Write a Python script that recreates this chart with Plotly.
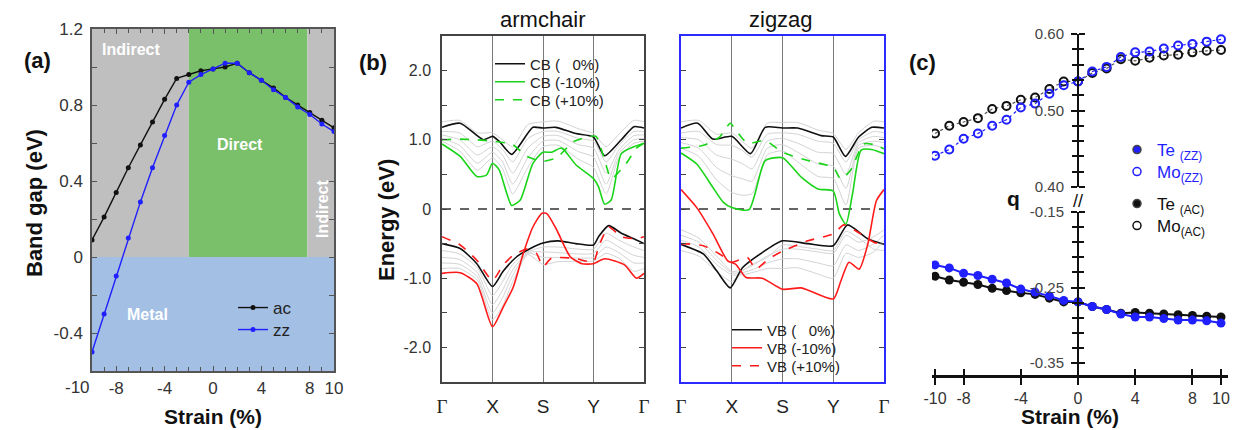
import plotly.graph_objects as go

W, H = 1237, 430
FONT = "Liberation Sans, Arial, sans-serif"


def fx(px):
    return px / W


def fy(py):
    return 1 - py / H


# ---------------- panel (a): band gap vs strain ----------------
strain_a = list(range(-10, 11))
gap_ac = [0.09, 0.21, 0.34, 0.47, 0.59, 0.71, 0.83, 0.94, 0.96, 0.98, 0.99,
          1.00, 1.02, 0.97, 0.93, 0.89, 0.84, 0.80, 0.76, 0.72, 0.68]
gap_zz = [-0.50, -0.30, -0.10, 0.10, 0.29, 0.47, 0.64, 0.80, 0.92, 0.96, 0.99,
          1.02, 1.02, 0.97, 0.93, 0.88, 0.84, 0.79, 0.75, 0.70, 0.66]
direct_from, direct_to = -2.0, 7.8
strain_ticks = [-10, -8, -4, 0, 4, 8, 10]
strain_ticktext = ["-10", "-8", "-4", "0", "4", "8", "10"]

# ---------------- panel (b): band structures ----------------
kpath_labels = ["Γ", "X", "S", "Y", "Γ"]
kpath_pos = [0, 1, 2, 3, 4]

# armchair
ac_cb0_k = [0, 0.36, 0.82, 1.0, 1.13, 1.38, 1.8, 2.0, 2.25, 2.65, 3.0, 3.22, 3.55, 3.8, 4.0]
ac_cb0_e = [1.18, 1.24, 1.00, 1.05, 0.98, 0.79, 1.18, 1.17, 1.18, 1.09, 1.04, 0.77, 1.00, 1.19, 1.17]
ac_cbm_k = [0, 0.36, 0.69, 0.88, 1.0, 1.13, 1.28, 1.38, 1.55, 1.8, 2.0, 2.17, 2.37, 2.65, 3.0, 3.1, 3.22, 3.35, 3.55, 3.8, 4.0]
ac_cbm_e = [0.94, 0.76, 0.47, 0.49, 0.66, 0.57, 0.23, 0.05, 0.13, 0.66, 0.82, 0.82, 0.88, 0.64, 0.44, 0.32, 0.07, 0.13, 0.80, 0.90, 0.95]
ac_cbp_k = [0, 0.36, 0.69, 1.0, 1.4, 1.68, 2.0, 2.27, 2.6, 2.93, 3.05, 3.22, 3.35, 3.65, 3.85, 4.0]
ac_cbp_e = [1.00, 1.01, 1.00, 0.98, 0.93, 0.76, 0.69, 0.74, 0.97, 1.05, 1.05, 0.71, 0.44, 0.66, 0.88, 0.95]
ac_vb0_k = [0, 0.36, 0.69, 1.0, 1.21, 1.48, 1.75, 2.0, 2.3, 2.65, 3.0, 3.1, 3.3, 3.55, 3.8, 4.0]
ac_vb0_e = [-0.50, -0.57, -0.79, -1.12, -0.90, -0.69, -0.57, -0.49, -0.46, -0.50, -0.52, -0.40, -0.24, -0.35, -0.43, -0.50]
ac_vbm_k = [0, 0.36, 0.69, 1.0, 1.21, 1.41, 1.61, 1.8, 1.98, 2.08, 2.27, 2.54, 2.77, 3.0, 3.22, 3.62, 3.85, 4.0]
ac_vbm_e = [-0.93, -0.92, -1.08, -1.70, -1.42, -1.13, -0.64, -0.26, -0.06, -0.07, -0.30, -0.69, -0.79, -0.79, -0.72, -0.81, -1.00, -0.93]
ac_vbp_k = [0, 0.36, 0.69, 1.0, 1.21, 1.41, 1.68, 1.87, 2.0, 2.17, 2.6, 3.0, 3.1, 3.3, 3.55, 3.85, 4.0]
ac_vbp_e = [-0.40, -0.52, -0.74, -1.03, -0.81, -0.67, -0.58, -0.64, -0.83, -0.71, -0.71, -0.76, -0.55, -0.26, -0.40, -0.43, -0.40]

# zigzag
zz_cb0_k = [0, 0.33, 0.63, 1.0, 1.37, 1.66, 2.0, 2.3, 2.76, 3.0, 3.24, 3.5, 3.76, 4.0]
zz_cb0_e = [1.17, 1.24, 1.01, 1.05, 0.80, 1.18, 1.17, 1.17, 1.06, 1.04, 0.76, 1.04, 1.18, 1.17]
zz_cbm_k = [0, 0.31, 0.63, 0.83, 1.0, 1.34, 1.66, 2.0, 2.37, 2.7, 3.0, 3.12, 3.25, 3.38, 3.55, 3.76, 4.0]
zz_cbm_e = [0.81, 0.65, 0.31, 0.10, 0.02, -0.01, 0.70, 0.74, 0.46, 0.29, 0.26, -0.07, -0.22, 0.22, 0.85, 0.86, 0.80]
zz_cbp_k = [0, 0.44, 0.76, 0.97, 1.08, 1.31, 1.66, 2.0, 2.5, 3.0, 3.15, 3.34, 3.6, 3.8, 4.0]
zz_cbp_e = [0.88, 0.92, 1.04, 1.24, 1.14, 0.95, 0.99, 0.82, 0.70, 0.60, 0.43, 0.56, 0.94, 0.93, 0.87]
zz_vb0_k = [0, 0.44, 0.70, 0.97, 1.21, 1.6, 2.0, 2.5, 3.0, 3.28, 3.68, 4.0]
zz_vb0_e = [-0.51, -0.65, -0.89, -1.14, -0.85, -0.63, -0.46, -0.50, -0.53, -0.23, -0.43, -0.51]
zz_vbm_k = [0, 0.31, 0.63, 0.92, 1.08, 1.28, 1.6, 2.0, 2.37, 3.0, 3.15, 3.31, 3.51, 3.68, 3.85, 4.0]
zz_vbm_e = [0.28, 0.02, -0.36, -0.75, -0.80, -0.99, -1.00, -1.16, -1.14, -1.30, -1.04, -0.77, -0.87, -0.51, 0.12, 0.28]
zz_vbp_k = [0, 0.44, 0.76, 1.0, 1.31, 1.47, 1.73, 2.0, 2.5, 3.0, 3.21, 3.54, 3.8, 4.0]
zz_vbp_e = [-0.50, -0.53, -0.65, -0.77, -0.70, -0.87, -0.72, -0.61, -0.46, -0.36, -0.23, -0.36, -0.48, -0.51]

# intermediate-strain bands (grey), read on a common k grid
gray_k = [0, 0.35, 0.7, 1.0, 1.2, 1.4, 1.7, 2.0, 2.3, 2.7, 3.0, 3.25, 3.5, 3.8, 4.0]
ac_cb_gray = [
    [1.26, 1.28, 1.10, 1.10, 1.00, 0.90, 1.22, 1.26, 1.27, 1.16, 1.09, 0.90, 1.08, 1.28, 1.26],
    [1.12, 1.10, 0.90, 0.98, 0.86, 0.68, 1.02, 1.12, 1.12, 1.02, 0.98, 0.68, 0.92, 1.12, 1.12],
    [1.07, 1.00, 0.78, 0.90, 0.78, 0.52, 0.88, 1.05, 1.06, 0.93, 0.88, 0.52, 0.85, 1.06, 1.07],
    [1.02, 0.92, 0.66, 0.82, 0.68, 0.36, 0.74, 0.98, 0.99, 0.83, 0.75, 0.36, 0.80, 1.00, 1.02],
    [0.98, 0.84, 0.56, 0.74, 0.58, 0.22, 0.60, 0.90, 0.92, 0.72, 0.60, 0.22, 0.74, 0.95, 0.98],
]
ac_vb_gray = [
    [-0.60, -0.65, -0.85, -1.25, -1.05, -0.80, -0.62, -0.55, -0.55, -0.58, -0.58, -0.35, -0.45, -0.55, -0.60],
    [-0.70, -0.73, -0.92, -1.38, -1.17, -0.88, -0.63, -0.62, -0.63, -0.65, -0.64, -0.45, -0.55, -0.67, -0.70],
    [-0.78, -0.80, -0.98, -1.50, -1.28, -0.96, -0.64, -0.70, -0.70, -0.71, -0.70, -0.55, -0.63, -0.78, -0.78],
    [-0.86, -0.86, -1.03, -1.60, -1.40, -1.05, -0.66, -0.80, -0.76, -0.76, -0.75, -0.64, -0.71, -0.90, -0.86],
]
zz_cb_gray = [
    [1.26, 1.28, 1.08, 1.10, 0.98, 0.88, 1.24, 1.25, 1.25, 1.14, 1.09, 0.86, 1.10, 1.27, 1.26],
    [1.10, 1.12, 0.93, 0.92, 0.85, 0.75, 1.08, 1.10, 1.08, 0.98, 0.95, 0.68, 1.00, 1.12, 1.10],
    [1.03, 1.00, 0.78, 0.72, 0.66, 0.58, 0.98, 1.02, 0.95, 0.82, 0.80, 0.50, 0.96, 1.05, 1.03],
    [0.96, 0.88, 0.60, 0.48, 0.44, 0.40, 0.88, 0.93, 0.82, 0.65, 0.62, 0.30, 0.92, 0.98, 0.96],
    [0.88, 0.76, 0.42, 0.24, 0.20, 0.22, 0.78, 0.84, 0.68, 0.47, 0.44, 0.06, 0.88, 0.92, 0.88],
]
zz_vb_gray = [
    [-0.30, -0.42, -0.68, -0.90, -0.88, -0.82, -0.68, -0.58, -0.58, -0.62, -0.64, -0.38, -0.48, -0.40, -0.30],
    [-0.38, -0.48, -0.74, -0.92, -0.92, -0.88, -0.78, -0.72, -0.72, -0.78, -0.82, -0.52, -0.60, -0.50, -0.38],
    [-0.45, -0.55, -0.80, -0.95, -0.95, -0.92, -0.86, -0.86, -0.85, -0.94, -1.00, -0.64, -0.70, -0.62, -0.45],
    [-0.60, -0.68, -0.90, -1.05, -0.90, -0.80, -0.70, -0.52, -0.54, -0.58, -0.60, -0.32, -0.42, -0.58, -0.60],
]

# ---------------- panel (c): charge q vs strain ----------------
strain_c = list(range(-10, 11))
mo_zz = [0.441, 0.449, 0.463, 0.470, 0.480, 0.488, 0.504, 0.509, 0.522, 0.533, 0.538,
         0.551, 0.557, 0.570, 0.576, 0.577, 0.581, 0.585, 0.587, 0.590, 0.593]
mo_ac = [0.470, 0.480, 0.485, 0.490, 0.502, 0.506, 0.514, 0.517, 0.528, 0.538, 0.538,
         0.549, 0.555, 0.567, 0.565, 0.569, 0.572, 0.573, 0.576, 0.578, 0.579]
te_zz = [-0.220, -0.224, -0.231, -0.234, -0.239, -0.244, -0.252, -0.256, -0.261, -0.267, -0.269,
         -0.275, -0.279, -0.285, -0.289, -0.289, -0.291, -0.293, -0.293, -0.294, -0.297]
te_ac = [-0.235, -0.240, -0.243, -0.246, -0.251, -0.254, -0.257, -0.259, -0.264, -0.269, -0.269,
         -0.275, -0.279, -0.284, -0.283, -0.284, -0.285, -0.286, -0.287, -0.288, -0.289]

BLACK = "#111111"
BLUE = "#1f1fff"
GREEN = "#19d419"
RED = "#ff1a1a"
GRAYBAND = "#d3d3d3"

fig = go.Figure()

# legend slots: (legend id, left px, centre-row px, font size, font colour)
legend_slots = {
    "legend": (233, 308, 17, "#222222"),
    "legend2": (233, 330, 17, "#222222"),
    "legend3": (490, 64, 15, "#222222"),
    "legend4": (490, 82, 15, "#222222"),
    "legend5": (490, 100, 15, "#222222"),
    "legend6": (727, 330, 15, "#222222"),
    "legend7": (727, 348, 15, "#222222"),
    "legend8": (727, 366, 15, "#222222"),
    "legend9": (1117, 150, 17, BLUE),
    "legend10": (1117, 172, 17, BLUE),
    "legend11": (1117, 204, 17, BLACK),
    "legend12": (1117, 226, 17, BLACK),
}

# ---- panel (a) traces
fig.add_trace(go.Scatter(x=strain_a, y=gap_ac, mode="lines+markers", name="ac",
                         line=dict(color=BLACK, width=1.4), marker=dict(size=5, color=BLACK),
                         xaxis="x", yaxis="y", legend="legend"))
fig.add_trace(go.Scatter(x=strain_a, y=gap_zz, mode="lines+markers", name="zz",
                         line=dict(color=BLUE, width=1.4), marker=dict(size=5, color=BLUE),
                         xaxis="x", yaxis="y", legend="legend2"))


def band(k, e, color, dash, ax, name=None, leg=None, width=1.6):
    fig.add_trace(go.Scatter(x=k, y=e, mode="lines", name=name,
                             line=dict(color=color, width=width, dash=dash, shape="spline", smoothing=0.6),
                             xaxis="x" + ax, yaxis="y" + ax, showlegend=name is not None,
                             legend=leg if leg else "legend", hoverinfo="skip"))


# grey bands first
for g in ac_cb_gray + ac_vb_gray:
    band(gray_k, g, GRAYBAND, "solid", "2", width=1.0)
for g in zz_cb_gray + zz_vb_gray:
    band(gray_k, g, GRAYBAND, "solid", "3", width=1.0)

# armchair
band(ac_vb0_k, ac_vb0_e, BLACK, "solid", "2")
band(ac_vbm_k, ac_vbm_e, RED, "solid", "2")
band(ac_vbp_k, ac_vbp_e, RED, "dash", "2")
band(ac_cb0_k, ac_cb0_e, BLACK, "solid", "2", name="CB (   0%)", leg="legend3")
band(ac_cbm_k, ac_cbm_e, GREEN, "solid", "2", name="CB (-10%)", leg="legend4")
band(ac_cbp_k, ac_cbp_e, GREEN, "dash", "2", name="CB (+10%)", leg="legend5")

# zigzag
band(zz_cb0_k, zz_cb0_e, BLACK, "solid", "3")
band(zz_cbm_k, zz_cbm_e, GREEN, "solid", "3")
band(zz_cbp_k, zz_cbp_e, GREEN, "dash", "3")
band(zz_vb0_k, zz_vb0_e, BLACK, "solid", "3", name="VB (   0%)", leg="legend6")
band(zz_vbm_k, zz_vbm_e, RED, "solid", "3", name="VB (-10%)", leg="legend7")
band(zz_vbp_k, zz_vbp_e, RED, "dash", "3", name="VB (+10%)", leg="legend8")

# ---- panel (c) traces
fig.add_trace(go.Scatter(x=strain_c, y=mo_ac, mode="lines+markers", showlegend=False,
                         line=dict(color="#555555", width=1.2, dash="dot"),
                         marker=dict(symbol="circle-open", size=8, color=BLACK, line=dict(width=2)),
                         xaxis="x4", yaxis="y4"))
fig.add_trace(go.Scatter(x=strain_c, y=mo_zz, mode="lines+markers", showlegend=False,
                         line=dict(color=BLUE, width=1.2, dash="dot"),
                         marker=dict(symbol="circle-open", size=8, color=BLUE, line=dict(width=2)),
                         xaxis="x4", yaxis="y4"))
fig.add_trace(go.Scatter(x=strain_c, y=te_ac, mode="lines+markers", showlegend=False,
                         line=dict(color=BLACK, width=2),
                         marker=dict(symbol="circle", size=9, color=BLACK),
                         xaxis="x4", yaxis="y5"))
fig.add_trace(go.Scatter(x=strain_c, y=te_zz, mode="lines+markers", showlegend=False,
                         line=dict(color=BLUE, width=2),
                         marker=dict(symbol="circle", size=9, color=BLUE),
                         xaxis="x4", yaxis="y5"))
# legend-only entries for panel (c)
for nm, sym, col, leg in [("Te <sub>(ZZ)</sub>", "circle", BLUE, "legend9"),
                          ("Mo<sub>(ZZ)</sub>", "circle-open", BLUE, "legend10"),
                          ("Te <sub>(AC)</sub>", "circle", BLACK, "legend11"),
                          ("Mo<sub>(AC)</sub>", "circle-open", BLACK, "legend12")]:
    fig.add_trace(go.Scatter(x=[None], y=[None], mode="markers", name=nm,
                             marker=dict(symbol=sym, size=8, color=col, line=dict(width=1.5)),
                             xaxis="x4", yaxis="y4", legend=leg))
# carriers for overlay tick axes
fig.add_trace(go.Scatter(x=[None], y=[None], xaxis="x5", yaxis="y6", showlegend=False, hoverinfo="skip"))
fig.add_trace(go.Scatter(x=[None], y=[None], xaxis="x5", yaxis="y7", showlegend=False, hoverinfo="skip"))

# ---------------- axes ----------------
tickfont_a = dict(family=FONT, size=17, color="#333333")
frame = dict(showline=True, linecolor="#555555", linewidth=1.5, mirror="allticks",
             ticks="inside", ticklen=5, tickcolor="#555555", zeroline=False, showgrid=False)

# in the original the "-10" label of panel (a) sits left of its tick: it is drawn as an annotation
xa = dict(frame, domain=[fx(92), fx(334)], range=[-10, 10], anchor="y",
          tickvals=strain_ticks[1:], ticktext=strain_ticktext[1:], tickfont=tickfont_a,
          ticklabelstandoff=1, tickangle=0,
          minor=dict(dtick=1, ticks="inside", ticklen=4, tickcolor="#555555"))
ya = dict(frame, domain=[fy(371), fy(29)], range=[-0.6, 1.2], anchor="x",
          tickvals=[-0.4, 0, 0.4, 0.8, 1.2], ticktext=["-0.4", "0", "0.4", "0.8", "1.2"],
          tickfont=tickfont_a, ticklabelstandoff=4,
          minor=dict(dtick=0.2, tick0=0, ticks="inside", ticklen=5, tickcolor="#555555"))

tickfont_b = dict(family=FONT, size=16, color="#333333")
kfont = dict(family=FONT, size=19, color="#222222")
k_ticktext = ["<span style='font-family:Liberation Serif'>%s</span>" % t if t == "Γ" else t
              for t in kpath_labels]
xb_common = dict(range=[0, 4], tickvals=kpath_pos, ticktext=k_ticktext, tickfont=kfont,
                 ticks="", showgrid=True, gridcolor="#7a7a7a", gridwidth=1.2, zeroline=False,
                 showline=True, mirror=True, linewidth=1.5, ticklabelstandoff=6, tickangle=0)
yb_common = dict(range=[-2.5, 2.5], tickvals=[-2, -1, 0, 1, 2],
                 ticktext=["-2.0", "-1.0", "0", "1.0", "2.0"], tickfont=tickfont_b,
                 ticks="inside", ticklen=5, mirror="allticks", showgrid=False, zeroline=False,
                 showline=True, linewidth=1.5, ticklabelstandoff=6,
                 minor=dict(dtick=0.5, tick0=0, ticks="inside", ticklen=5))
xb1 = dict(xb_common, domain=[fx(442), fx(644)], anchor="y2", linecolor="#444444")
yb1 = dict(yb_common, domain=[fy(382), fy(36)], anchor="x2", linecolor="#444444", tickcolor="#444444")
xb2 = dict(xb_common, domain=[fx(681), fx(884)], anchor="y3", linecolor="#2b2bff")
yb2 = dict(yb_common, domain=[fy(382), fy(36)], anchor="x3", linecolor="#2b2bff", tickcolor="#444444",
           showticklabels=False)

x0_c = 1078
xr_c = [-(x0_c - 932) / 14.3, (1228 - x0_c) / 14.3]
tickfont_c = dict(family=FONT, size=15, color="#444444")
xc = dict(domain=[fx(932), fx(1228)], range=xr_c, anchor="free", position=fy(376),
          showline=True, linecolor=BLACK, linewidth=3, ticks="outside", ticklen=7, tickwidth=2,
          tickcolor=BLACK, tickvals=strain_ticks, ticktext=strain_ticktext, tickangle=0,
          tickfont=dict(family=FONT, size=16, color="#333333"), showgrid=False, zeroline=False,
          ticklabelstandoff=0)
xc_top = dict(overlaying="x4", range=xr_c, anchor="free", position=fy(376), side="top",
              showline=False, ticks="outside", ticklen=7, tickwidth=2, tickcolor=BLACK,
              tickvals=strain_ticks, showticklabels=False, showgrid=False, zeroline=False)
yc_common = dict(anchor="free", position=fx(x0_c), showline=True, linecolor=BLACK, linewidth=2,
                 ticks="outside", ticklen=6, tickwidth=1.5, tickcolor=BLACK, showgrid=False,
                 zeroline=False, tickfont=tickfont_c, ticklabelstandoff=4)
yc_up = dict(yc_common, domain=[fy(187), fy(34)], range=[0.40, 0.60],
             tickvals=[0.40, 0.50, 0.60], ticktext=["0.40", "0.50", "0.60"],
             minor=dict(dtick=0.02, tick0=0.40, ticks="outside", ticklen=5, tickcolor=BLACK, tickwidth=1.5))
yc_lo = dict(yc_common, domain=[fy(376), fy(212)], range=[-0.367, -0.15],
             tickvals=[-0.35, -0.25, -0.15], ticktext=["-0.35", "-0.25", "-0.15"],
             minor=dict(dtick=0.02, tick0=-0.35, ticks="outside", ticklen=5, tickcolor=BLACK, tickwidth=1.5))
yc_up_r = dict(yc_up, overlaying="y4", side="right", showticklabels=False, showline=False)
yc_lo_r = dict(yc_lo, overlaying="y5", side="right", showticklabels=False, showline=False)

# ---------------- shapes ----------------
shapes = [
    dict(type="rect", xref="x", yref="y", x0=-10, x1=direct_from, y0=0, y1=1.2,
         fillcolor="#bfbfbf", line=dict(width=0), layer="below"),
    dict(type="rect", xref="x", yref="y", x0=direct_from, x1=direct_to, y0=0, y1=1.2,
         fillcolor="#7abf6a", line=dict(width=0), layer="below"),
    dict(type="rect", xref="x", yref="y", x0=direct_to, x1=10, y0=0, y1=1.2,
         fillcolor="#bfbfbf", line=dict(width=0), layer="below"),
    dict(type="rect", xref="x", yref="y", x0=-10, x1=10, y0=-0.6, y1=0,
         fillcolor="#a3bfe4", line=dict(width=0), layer="below"),
    dict(type="line", xref="x", yref="y domain", x0=0, x1=0, y0=0, y1=1,
         line=dict(color=BLACK, width=2, dash="dash"), layer="below"),
    dict(type="line", xref="x2 domain", yref="y2", x0=0, x1=1, y0=0, y1=0,
         line=dict(color="#333333", width=1.5, dash="dash"), layer="below"),
    dict(type="line", xref="x3 domain", yref="y3", x0=0, x1=1, y0=0, y1=0,
         line=dict(color="#333333", width=1.5, dash="dash"), layer="below"),
]


def ann(px, py, text, size, bold=False, color="#111111", angle=0, xanchor="center", yanchor="middle"):
    t = "<b>%s</b>" % text if bold else text
    return dict(x=fx(px), y=fy(py), xref="paper", yref="paper", text=t, showarrow=False,
                font=dict(family=FONT, size=size, color=color), textangle=angle,
                xanchor=xanchor, yanchor=yanchor)


annotations = [
    ann(37, 60, "(a)", 22, True),
    ann(373, 62, "(b)", 22, True),
    ann(922, 62, "(c)", 22, True),
    ann(34, 203, "Band gap (eV)", 22, True, angle=-90),
    ann(213, 430, "Strain (%)", 21, True, yanchor="bottom"),
    ann(386, 220, "Energy (eV)", 22, True, angle=-90),
    ann(1070, 430, "Strain (%)", 21, True, yanchor="bottom"),
    ann(77, 387, strain_ticktext[0], 17, False, "#333333"),
    ann(543, 20, "armchair", 22),
    ann(781, 20, "zigzag", 22),
    ann(131, 49, "Indirect", 16, True, "white"),
    ann(240, 144, "Direct", 16, True, "white"),
    ann(147, 314, "Metal", 16, True, "white"),
    ann(323, 209, "Indirect", 16, True, "white", angle=-90),
    ann(1013, 198, "q", 21, True),
    ann(1078, 201, "//", 18, False, BLACK),
]

legends = {}
for lid, (lx, ly, fs, fc) in legend_slots.items():
    legends[lid] = dict(x=fx(lx), y=fy(ly), xanchor="left", yanchor="middle",
                        bgcolor="rgba(0,0,0,0)", borderwidth=0, tracegroupgap=0,
                        font=dict(family=FONT, size=fs, color=fc))

fig.update_layout(
    width=W, height=H, margin=dict(l=0, r=0, t=0, b=0, pad=0, autoexpand=False),
    paper_bgcolor="white", plot_bgcolor="white",
    font=dict(family=FONT),
    xaxis=xa, yaxis=ya,
    xaxis2=xb1, yaxis2=yb1,
    xaxis3=xb2, yaxis3=yb2,
    xaxis4=xc, xaxis5=xc_top,
    yaxis4=yc_up, yaxis5=yc_lo, yaxis6=yc_up_r, yaxis7=yc_lo_r,
    shapes=shapes, annotations=annotations,
    showlegend=True,
    **legends,
)

fig.write_html("out.html")
